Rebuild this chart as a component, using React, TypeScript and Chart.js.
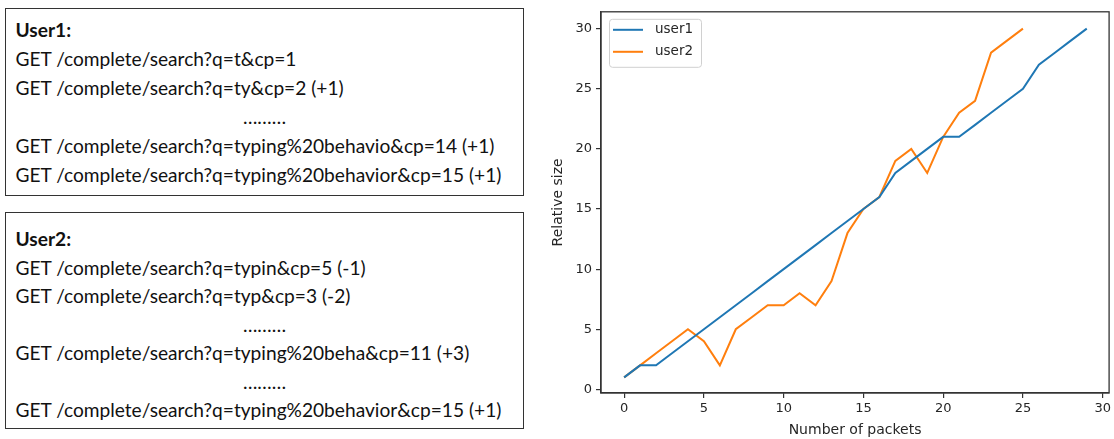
import React, { useEffect, useRef } from 'react';
import { Chart, registerables } from 'chart.js';

Chart.register(...registerables);

const packets1 = [0, 1, 2, 3, 4, 5, 6, 7, 8, 9, 10, 11, 12, 13, 14, 15, 16, 17, 18, 19, 20, 21, 22, 23, 24, 25, 26, 27, 28, 29];
const user1Sizes = [1, 2, 2, 3, 4, 5, 6, 7, 8, 9, 10, 11, 12, 13, 14, 15, 16, 18, 19, 20, 21, 21, 22, 23, 24, 25, 27, 28, 29, 30];
const packets2 = [0, 1, 2, 3, 4, 5, 6, 7, 8, 9, 10, 11, 12, 13, 14, 15, 16, 17, 18, 19, 20, 21, 22, 23, 24, 25];
const user2Sizes = [1, 2, 3, 4, 5, 4, 2, 5, 6, 7, 7, 8, 7, 9, 13, 15, 16, 19, 20, 18, 21, 23, 24, 28, 29, 30];
const seriesNames = ['user1', 'user2'];
const xTicks = [0, 5, 10, 15, 20, 25, 30];
const yTicks = [0, 5, 10, 15, 20, 25, 30];
const xTitle = 'Number of packets';
const yTitle = 'Relative size';

const user1Title = 'User1:';
const user1Lines = [
  'GET /complete/search?q=t&cp=1',
  'GET /complete/search?q=ty&cp=2 (+1)',
  '………',
  'GET /complete/search?q=typing%20behavio&cp=14 (+1)',
  'GET /complete/search?q=typing%20behavior&cp=15 (+1)',
];
const user2Title = 'User2:';
const user2Lines = [
  'GET /complete/search?q=typin&cp=5 (-1)',
  'GET /complete/search?q=typ&cp=3 (-2)',
  '………',
  'GET /complete/search?q=typing%20beha&cp=11 (+3)',
  '………',
  'GET /complete/search?q=typing%20behavior&cp=15 (+1)',
];

const TEXT_FONT = 'Lato, "Open Sans", sans-serif';

function RequestBox(props: { title: string; lines: string[]; style: React.CSSProperties; lineHeight: number; padTop: number }) {
  const { title, lines, style, lineHeight, padTop } = props;
  return (
    <div
      style={{
        position: 'absolute',
        boxSizing: 'border-box',
        border: '1.5px solid #333',
        paddingLeft: 9.5,
        paddingTop: padTop,
        fontFamily: TEXT_FONT,
        fontSize: 19.15,
        color: '#111',
        lineHeight: lineHeight + 'px',
        whiteSpace: 'nowrap',
        ...style,
      }}
    >
      <div style={{ fontWeight: 700 }}>{title}</div>
      {lines.map((l, i) =>
        l.startsWith('…') ? (
          <div key={i} style={{ textAlign: 'center', paddingRight: 9.5 }}>{l}</div>
        ) : (
          <div key={i}>{l}</div>
        )
      )}
    </div>
  );
}

const spinesPlugin = {
  id: 'spines',
  afterDraw(chart: any) {
    const { ctx, chartArea } = chart;
    ctx.save();
    ctx.strokeStyle = '#333';
    ctx.lineWidth = 1.3;
    ctx.strokeRect(chartArea.left, chartArea.top, chartArea.right - chartArea.left, chartArea.bottom - chartArea.top);
    ctx.restore();
  },
};

const innerLegendPlugin = {
  id: 'innerLegend',
  afterDatasetsDraw(chart: any) {
    const { ctx, chartArea } = chart;
    const x = chartArea.left + 8;
    const y = chartArea.top + 7;
    const w = 92;
    const h = 48;
    ctx.save();
    ctx.fillStyle = 'rgba(255,255,255,0.85)';
    ctx.strokeStyle = '#d0d0d0';
    ctx.lineWidth = 1;
    ctx.beginPath();
    if (ctx.roundRect) ctx.roundRect(x + 0.5, y + 0.5, w, h, 3);
    else ctx.rect(x + 0.5, y + 0.5, w, h);
    ctx.fill();
    ctx.stroke();
    ctx.font = '13.5px "DejaVu Sans"';
    ctx.textBaseline = 'middle';
    chart.data.datasets.forEach((ds: any, i: number) => {
      const ly = y + 11 + i * 22;
      ctx.strokeStyle = ds.borderColor;
      ctx.lineWidth = 2;
      ctx.beginPath();
      ctx.moveTo(x + 4, ly);
      ctx.lineTo(x + 34, ly);
      ctx.stroke();
      ctx.fillStyle = '#262626';
      ctx.fillText(ds.label, x + 46, ly);
    });
    ctx.restore();
  },
};

function LineChart() {
  const canvasRef = useRef<HTMLCanvasElement>(null);
  useEffect(() => {
    const tickFont = { family: '"DejaVu Sans"', size: 13 };
    const titleFont = { family: '"DejaVu Sans"', size: 14 };
    const chart = new Chart(canvasRef.current as HTMLCanvasElement, {
      type: 'line',
      data: {
        datasets: [
          {
            label: seriesNames[0],
            data: packets1.map((p, i) => ({ x: p, y: user1Sizes[i] })),
            borderColor: '#1f77b4',
            backgroundColor: '#1f77b4',
            borderWidth: 2,
            pointRadius: 0,
            tension: 0,
          },
          {
            label: seriesNames[1],
            data: packets2.map((p, i) => ({ x: p, y: user2Sizes[i] })),
            borderColor: '#ff7f0e',
            backgroundColor: '#ff7f0e',
            borderWidth: 2,
            pointRadius: 0,
            tension: 0,
          },
        ],
      },
      options: {
        animation: false,
        responsive: true,
        maintainAspectRatio: false,
        layout: { padding: { top: 11, right: 1, left: 0, bottom: 0 } },
        plugins: { legend: { display: false }, tooltip: { enabled: false } },
        scales: {
          x: {
            type: 'linear',
            min: -1.45,
            max: 30.4,
            afterBuildTicks: (scale: any) => {
              scale.ticks = xTicks.map((v) => ({ value: v }));
            },
            afterFit: (scale: any) => {
              scale.height = 46;
            },
            grid: { drawOnChartArea: false, drawTicks: true, tickLength: 5, color: '#333', lineWidth: 1.2 },
            border: { display: true, color: '#333', width: 1.3 },
            ticks: { font: tickFont, color: '#262626', padding: 3, maxRotation: 0 },
            title: { display: true, text: xTitle, font: titleFont, color: '#262626', padding: { top: 0, bottom: 0.6 } },
          },
          y: {
            type: 'linear',
            min: -0.3,
            max: 31.4,
            afterBuildTicks: (scale: any) => {
              scale.ticks = yTicks.map((v) => ({ value: v }));
            },
            afterFit: (scale: any) => {
              scale.width = 61;
            },
            grid: { drawOnChartArea: false, drawTicks: true, tickLength: 5, color: '#333', lineWidth: 1.2 },
            border: { display: true, color: '#333', width: 1.3 },
            ticks: { font: tickFont, color: '#262626', padding: 4 },
            title: { display: true, text: yTitle, font: titleFont, color: '#262626', padding: { top: 9.6, bottom: 0 } },
          },
        },
      },
      plugins: [spinesPlugin, innerLegendPlugin],
    } as any);
    return () => chart.destroy();
  }, []);
  return <canvas ref={canvasRef} />;
}

export default function App() {
  return (
    <div style={{ position: 'absolute', left: 0, top: 0, width: 1114, height: 439, background: '#fff', overflow: 'hidden' }}>
      <RequestBox title={user1Title} lines={user1Lines} lineHeight={29} padTop={6} style={{ left: 5, top: 8, width: 519, height: 188 }} />
      <RequestBox title={user2Title} lines={user2Lines} lineHeight={28.5} padTop={12} style={{ left: 5, top: 212, width: 519, height: 217 }} />
      <div style={{ position: 'absolute', left: 540, top: 0, width: 574, height: 439 }}>
        <LineChart />
      </div>
    </div>
  );
}
